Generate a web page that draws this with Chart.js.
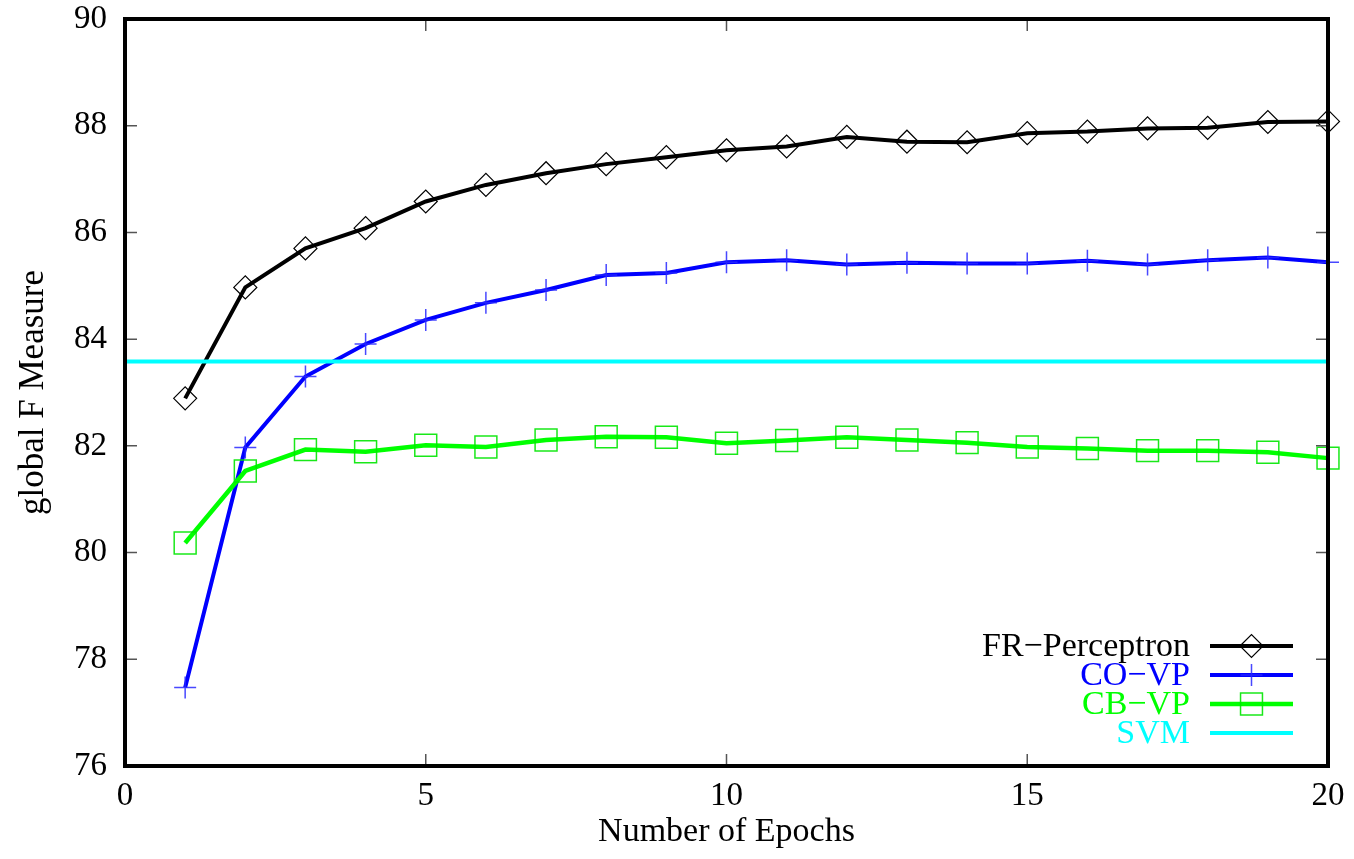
<!DOCTYPE html>
<html>
<head>
<meta charset="utf-8">
<script src="https://cdn.jsdelivr.net/npm/chart.js@4.4.0/dist/chart.umd.min.js"></script>
<style>
  html, body { margin: 0; padding: 0; background: #fff; }
  #wrap { width: 1354px; height: 859px; }
</style>
</head>
<body>
<div id="wrap"><canvas id="chart" width="1354" height="859"></canvas></div>
<script>
// values
const epochs = [1, 2, 3, 4, 5, 6, 7, 8, 9, 10, 11, 12, 13, 14, 15, 16, 17, 18, 19, 20]
const frPerceptron = [82.89, 84.97, 85.70, 86.08, 86.58, 86.89, 87.11, 87.28, 87.41, 87.54,
                      87.61, 87.79, 87.70, 87.69, 87.86, 87.89, 87.95, 87.96, 88.07, 88.08]
const coVP = [77.47, 81.97, 83.30, 83.91, 84.36, 84.68, 84.92, 85.20, 85.24, 85.44,
              85.48, 85.40, 85.43, 85.42, 85.42, 85.47, 85.40, 85.48, 85.53, 85.44]
const cbVP = [80.18, 81.53, 81.93, 81.89, 82.01, 81.98, 82.11, 82.17, 82.16, 82.05,
              82.10, 82.16, 82.11, 82.06, 81.98, 81.95, 81.91, 81.91, 81.88, 81.77]
const svm = 83.58
const svmRange = [0, 20]
const xTicks = [0, 5, 10, 15, 20]
const yTicks = [76, 78, 80, 82, 84, 86, 88, 90]

const FONT = "'Liberation Serif', 'Times New Roman', serif"

const pts = (xs, ys) => xs.map((x, i) => ({ x: x, y: ys[i] }))

// inward ticks on all four sides plus the heavy border
const framePlugin = {
  id: 'frame',
  afterDatasetsDraw(chart) {
    const { ctx, chartArea: a, scales } = chart
    ctx.save()
    ctx.strokeStyle = '#555'
    ctx.lineWidth = 1.5
    ctx.beginPath()
    for (const t of scales.y.ticks) {
      const py = scales.y.getPixelForValue(t.value)
      ctx.moveTo(a.left, py); ctx.lineTo(a.left + 12, py)
      ctx.moveTo(a.right, py); ctx.lineTo(a.right - 12, py)
    }
    for (const t of scales.x.ticks) {
      const px = scales.x.getPixelForValue(t.value)
      ctx.moveTo(px, a.bottom); ctx.lineTo(px, a.bottom - 12)
      ctx.moveTo(px, a.top); ctx.lineTo(px, a.top + 12)
    }
    ctx.stroke()
    ctx.strokeStyle = '#000'
    ctx.lineWidth = 4
    ctx.strokeRect(a.left, a.top, a.right - a.left, a.bottom - a.top)
    ctx.restore()
  }
}

// gnuplot style key: label right aligned, sample line with marker on its right
const keyPlugin = {
  id: 'key',
  afterDraw(chart) {
    const { ctx, chartArea: a } = chart
    const textRight = a.right - 138
    const lineL = a.right - 118
    const lineR = a.right - 35
    const mid = (lineL + lineR) / 2
    ctx.save()
    ctx.font = `34px ${FONT}`
    ctx.textAlign = 'right'
    ctx.textBaseline = 'middle'
    chart.data.datasets.forEach((ds, i) => {
      const y = a.bottom - 120 + i * 29
      ctx.fillStyle = ds.borderColor
      ctx.fillText(ds.label, textRight, y + 1)
      ctx.strokeStyle = ds.borderColor
      ctx.lineWidth = ds.borderWidth
      ctx.beginPath(); ctx.moveTo(lineL, y); ctx.lineTo(lineR, y); ctx.stroke()
      if (ds.pointRadius > 0) {
        ctx.strokeStyle = ds.pointBorderColor
        ctx.fillStyle = 'rgba(0,0,0,0)'
        ctx.lineWidth = ds.pointBorderWidth
        Chart.helpers.drawPoint(ctx, {
          pointStyle: ds.pointStyle, radius: ds.pointRadius, rotation: 0,
          borderWidth: ds.pointBorderWidth
        }, mid, y)
      }
    })
    ctx.restore()
  }
}

const ctx = document.getElementById('chart')
new Chart(ctx, {
  type: 'line',
  data: {
    datasets: [
      {
        label: 'FR\u2212Perceptron',
        data: pts(epochs, frPerceptron),
        borderColor: '#000000',
        borderWidth: 4,
        pointStyle: 'rectRot',
        pointRadius: 11.5,
        pointBorderColor: '#000000',
        pointBorderWidth: 1.2,
        pointBackgroundColor: 'rgba(0,0,0,0)',
        order: 3,
        clip: false,
      },
      {
        label: 'CO\u2212VP',
        data: pts(epochs, coVP),
        borderColor: '#0000ff',
        borderWidth: 4,
        pointStyle: 'cross',
        pointRadius: 11,
        pointBorderColor: 'rgba(40,40,255,0.85)',
        pointBorderWidth: 1.5,
        order: 2,
        clip: false,
      },
      {
        label: 'CB\u2212VP',
        data: pts(epochs, cbVP),
        borderColor: '#00ff00',
        borderWidth: 4.5,
        pointStyle: 'rect',
        pointRadius: 15.5,
        pointBorderColor: 'rgba(0,230,0,0.9)',
        pointBorderWidth: 1.5,
        pointBackgroundColor: 'rgba(0,0,0,0)',
        order: 1,
        clip: false,
      },
      {
        label: 'SVM',
        data: svmRange.map(x => ({ x: x, y: svm })),
        borderColor: '#00ffff',
        borderWidth: 4,
        pointRadius: 0,
        order: 0,
      },
    ],
  },
  options: {
    responsive: false,
    animation: false,
    devicePixelRatio: 1,
    layout: { padding: { top: 19, right: 26, left: 0, bottom: 0 } },
    plugins: {
      legend: { display: false },
      tooltip: { enabled: false },
    },
    elements: { line: { tension: 0 } },
    scales: {
      x: {
        type: 'linear',
        min: 0,
        max: 20,
        afterBuildTicks: (s) => { s.ticks = xTicks.map(v => ({ value: v })) },
        afterFit: (s) => { s.height = 93; s.paddingLeft = 0; s.paddingRight = 0 },
        grid: { display: false, drawTicks: false },
        border: { display: false },
        ticks: { color: '#000', font: { family: FONT, size: 33 }, padding: 11, maxRotation: 0 },
        title: {
          display: true,
          text: 'Number of Epochs',
          color: '#000',
          font: { family: FONT, size: 34 },
          padding: { top: 0, bottom: 7 },
        },
      },
      y: {
        min: 76,
        max: 90,
        afterBuildTicks: (s) => { s.ticks = yTicks.map(v => ({ value: v })) },
        afterFit: (s) => { s.width = 125; s.paddingTop = 0; s.paddingBottom = 0 },
        grid: { display: false, drawTicks: false },
        border: { display: false },
        ticks: { color: '#000', font: { family: FONT, size: 33 }, padding: 18 },
        title: {
          display: true,
          text: 'global F Measure',
          color: '#000',
          font: { family: FONT, size: 35 },
          padding: { top: 13, bottom: 0 },
        },
      },
    },
  },
  plugins: [framePlugin, keyPlugin],
})
</script>
</body>
</html>
